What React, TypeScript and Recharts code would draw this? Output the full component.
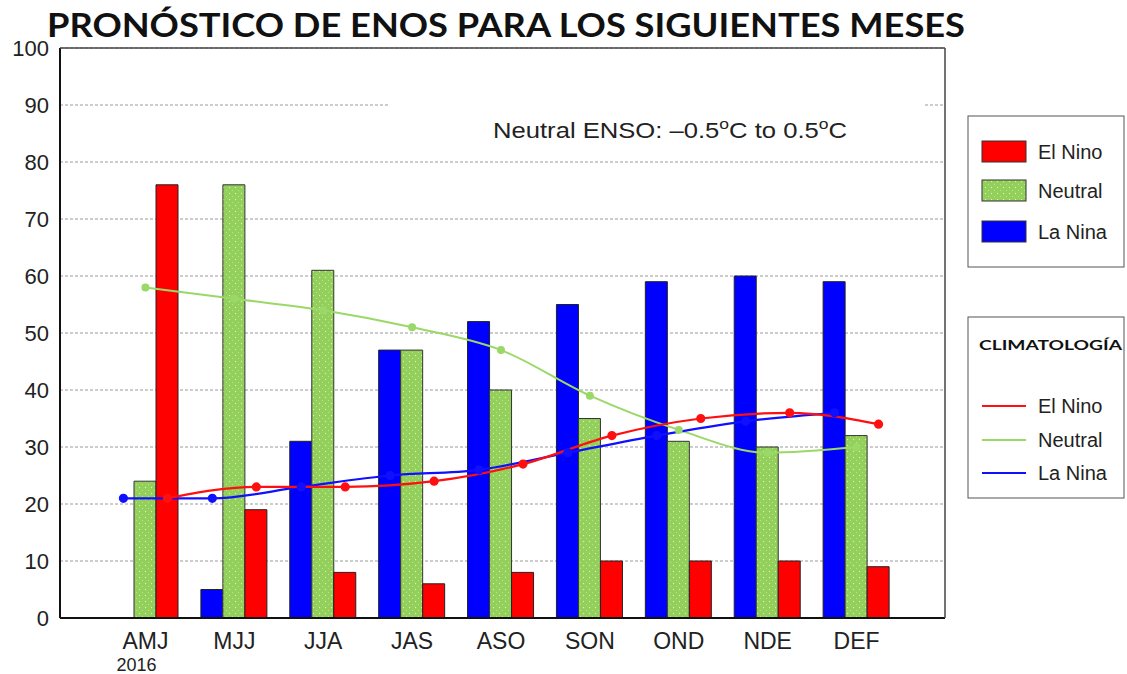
import {
  ComposedChart,
  Bar,
  Line,
  XAxis,
  YAxis,
  CartesianGrid,
} from "recharts";

// categories and values
const categories = ["AMJ", "MJJ", "JJA", "JAS", "ASO", "SON", "OND", "NDE", "DEF"];
const elNino = [76, 19, 8, 6, 8, 10, 10, 10, 9];
const neutral = [24, 76, 61, 47, 40, 35, 31, 30, 32];
const laNina = [0, 5, 31, 47, 52, 55, 59, 60, 59];

// climatology lines
const climElNino = [21, 23, 23, 24, 27, 32, 35, 36, 34];
const climNeutral = [58, 56, 54, 51, 47, 39, 33, 29, 30];
const climLaNina = [21, 21, 23, 25, 26, 29, 32, 34.5, 36];

const yTicks = [0, 10, 20, 30, 40, 50, 60, 70, 80, 90, 100];

const RED = "#ff0000";
const GREEN = "#93cf5c";
const BLUE = "#0000ff";
const FONT = "'Liberation Sans', Arial, sans-serif";

const barData = categories.map((name, i) => ({
  name,
  laNina: laNina[i],
  neutral: neutral[i],
  elNino: elNino[i],
}));

// each climatology point sits over the centre of its own bar
const BAR_SHIFT = 0.2475;
const lineData = (vals: number[], shift: number) =>
  vals.map((v, i) => ({ x: i + shift, v }));

const XTick = (props: any) => {
  const { x, y, payload } = props;
  return (
    <g transform={`translate(${x},${y})`}>
      <text y={29} textAnchor="middle" fontSize={23} fill="#222" fontFamily={FONT}>
        {payload.value}
      </text>
      {payload.value === "AMJ" && (
        <text x={-9} y={51} textAnchor="middle" fontSize={18} fill="#222" fontFamily={FONT}>
          2016
        </text>
      )}
    </g>
  );
};

const DotPattern = ({ id }: { id: string }) => (
  <pattern id={id} width={6} height={6} patternUnits="userSpaceOnUse">
    <rect width={6} height={6} fill={GREEN} />
    <circle cx={1.5} cy={1.5} r={0.7} fill="#d6f59c" />
    <circle cx={4.5} cy={4.5} r={0.6} fill="#c3ec84" />
  </pattern>
);

export default function App() {
  return (
    <div style={{ position: "absolute", left: 0, top: 0, width: 1127, height: 674, background: "#fff" }}>
      <ComposedChart
        width={1127}
        height={674}
        data={barData}
        margin={{ top: 48, right: 182, bottom: 6, left: 0 }}
        barGap={0}
      >
        <defs>
          <DotPattern id="greenDots" />
        </defs>
        <CartesianGrid
          vertical={false}
          stroke="#9a9a9a"
          strokeDasharray="3 2"
        />
        <XAxis
          dataKey="name"
          padding={{ left: 41, right: 44 }}
          axisLine={{ stroke: "#111", strokeWidth: 2 }}
          tickLine={false}
          tickSize={0}
          height={50}
          tick={<XTick />}
          interval={0}
        />
        <XAxis
          xAxisId="n"
          dataKey="x"
          type="number"
          domain={[-0.961, 8.995]}
          allowDataOverflow
          hide
        />
        <YAxis
          domain={[0, 100]}
          ticks={yTicks}
          width={60}
          axisLine={{ stroke: "#111", strokeWidth: 2 }}
          tickLine={false}
          tickSize={0}
          tickMargin={11}
          tick={{ fontSize: 22, fill: "#222", fontFamily: FONT }}
          interval={0}
        />
        <Bar dataKey="laNina" fill={BLUE} stroke="#222" strokeWidth={1} barSize={22} isAnimationActive={false} />
        <Bar dataKey="neutral" fill="url(#greenDots)" stroke="#333" strokeWidth={1} barSize={22} isAnimationActive={false} />
        <Bar dataKey="elNino" fill={RED} stroke="#222" strokeWidth={1} barSize={22} isAnimationActive={false} />
        <Line
          xAxisId="n"
          data={lineData(climNeutral, 0)}
          dataKey="v"
          type="monotone"
          stroke="#9ad868"
          strokeWidth={2}
          dot={{ r: 3, fill: "#9ad868", stroke: "#9ad868" }}
          isAnimationActive={false}
        />
        <Line
          xAxisId="n"
          data={lineData(climLaNina, -BAR_SHIFT)}
          dataKey="v"
          type="monotone"
          stroke="#1010ff"
          strokeWidth={2.2}
          dot={{ r: 3.5, fill: "#1010ff", stroke: "#1010ff" }}
          isAnimationActive={false}
        />
        <Line
          xAxisId="n"
          data={lineData(climElNino, BAR_SHIFT)}
          dataKey="v"
          type="monotone"
          stroke="#ff1010"
          strokeWidth={2.2}
          dot={{ r: 3.5, fill: "#ff1010", stroke: "#ff1010" }}
          isAnimationActive={false}
        />
      </ComposedChart>

      <svg
        width={1127}
        height={674}
        style={{ position: "absolute", left: 0, top: 0, pointerEvents: "none" }}
      >
        <defs>
          <DotPattern id="greenDotsLegend" />
        </defs>
        {/* plot frame top / right */}
        <line x1={60} y1={48} x2={945} y2={48} stroke="#444" strokeWidth={1.5} />
        <line x1={945} y1={48} x2={945} y2={618} stroke="#444" strokeWidth={1.5} />

        <text
          x={47}
          y={37}
          fontFamily="Lato, 'Open Sans', sans-serif"
          fontWeight={700}
          fontSize={33}
          fill="#111"
          textLength={918}
          lengthAdjust="spacingAndGlyphs"
        >
          PRONÓSTICO DE ENOS PARA LOS SIGUIENTES MESES
        </text>

        {/* annotation, masking the 90 gridline */}
        <rect x={390} y={97} width={535} height={50} fill="#fff" />
        <text
          x={493}
          y={138}
          fontFamily={FONT}
          fontSize={22}
          fill="#222"
          textLength={354}
          lengthAdjust="spacingAndGlyphs"
        >
          Neutral ENSO: –0.5
          <tspan dy={-9} fontSize={15}>o</tspan>
          <tspan dy={9}>C to 0.5</tspan>
          <tspan dy={-9} fontSize={15}>o</tspan>
          <tspan dy={9}>C</tspan>
        </text>

        {/* bar legend */}
        <rect x={968} y={116} width={156} height={151} fill="#fff" stroke="#555" strokeWidth={1} />
        <rect x={982} y={141} width={44} height={21} fill={RED} stroke="#333" />
        <text x={1038} y={159} fontFamily={FONT} fontSize={20} fill="#222">El Nino</text>
        <rect x={982} y={180} width={44} height={21} fill="url(#greenDotsLegend)" stroke="#333" />
        <text x={1038} y={198} fontFamily={FONT} fontSize={20} fill="#222">Neutral</text>
        <rect x={982} y={221} width={44} height={21} fill={BLUE} stroke="#333" />
        <text x={1038} y={239} fontFamily={FONT} fontSize={20} fill="#222">La Nina</text>

        {/* climatology legend */}
        <rect x={968} y={317} width={156} height={181} fill="#fff" stroke="#555" strokeWidth={1} />
        <text
          x={979}
          y={350}
          fontFamily="Lato, 'Open Sans', sans-serif"
          fontWeight={700}
          fontSize={14}
          fill="#111"
          textLength={143}
          lengthAdjust="spacingAndGlyphs"
        >
          CLIMATOLOGÍA
        </text>
        <line x1={982} y1={406} x2={1026} y2={406} stroke="#ff1010" strokeWidth={2.2} />
        <text x={1038} y={413} fontFamily={FONT} fontSize={20} fill="#222">El Nino</text>
        <line x1={982} y1={440} x2={1026} y2={440} stroke="#9ad868" strokeWidth={2} />
        <text x={1038} y={447} fontFamily={FONT} fontSize={20} fill="#222">Neutral</text>
        <line x1={982} y1={473} x2={1026} y2={473} stroke="#1010ff" strokeWidth={2.2} />
        <text x={1038} y={480} fontFamily={FONT} fontSize={20} fill="#222">La Nina</text>
      </svg>
    </div>
  );
}
